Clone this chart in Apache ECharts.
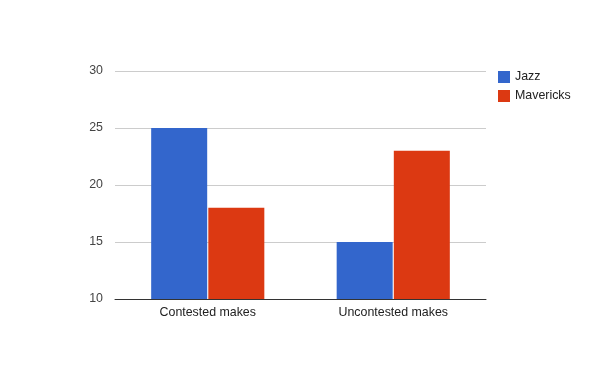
<!DOCTYPE html>
<html>
<head>
<meta charset="utf-8">
<script src="https://cdn.jsdelivr.net/npm/echarts@6/dist/echarts.min.js"></script>
<style>html,body{margin:0;padding:0;background:#fff;}#c{width:600px;height:371px;}</style>
</head>
<body>
<div id="c"></div>
<script>
const categories = ['Contested makes', 'Uncontested makes'];
const jazz = [25, 15];
const mavericks = [18, 23];
const yTicks = [10, 15, 20, 25, 30];

const FONT = 'Liberation Sans, Arial, sans-serif';
const chart = echarts.init(document.getElementById('c'), null, {renderer: 'canvas'});
chart.setOption({
  animation: false,
  textStyle: {fontFamily: FONT},
  legend: {
    orient: 'vertical', left: 498, top: 71, padding: 0,
    itemWidth: 12, itemHeight: 12, itemGap: 7,
    icon: 'rect',
    textStyle: {fontSize: 12.4, color: '#222', fontFamily: FONT},
    data: ['Jazz', 'Mavericks']
  },
  grid: {left: 115, right: 114, top: 71, bottom: 72},
  xAxis: {
    type: 'category', data: categories,
    axisTick: {show: false},
    axisLine: {lineStyle: {color: '#333', width: 1}},
    axisLabel: {color: '#222', fontSize: 12.4, margin: 8, fontFamily: FONT}
  },
  yAxis: {
    type: 'value', min: yTicks[0], max: yTicks[yTicks.length - 1], interval: 5,
    axisLine: {show: false}, axisTick: {show: false},
    splitLine: {lineStyle: {color: '#ccc'}},
    axisLabel: {color: '#444', fontSize: 12.4, margin: 12, fontFamily: FONT}
  },
  series: [
    {name: 'Jazz', type: 'bar', data: jazz, itemStyle: {color: '#3366cc'}, barCategoryGap: '39%', barGap: '2%'},
    {name: 'Mavericks', type: 'bar', data: mavericks, itemStyle: {color: '#dc3912'}}
  ]
});
</script>
</body>
</html>
